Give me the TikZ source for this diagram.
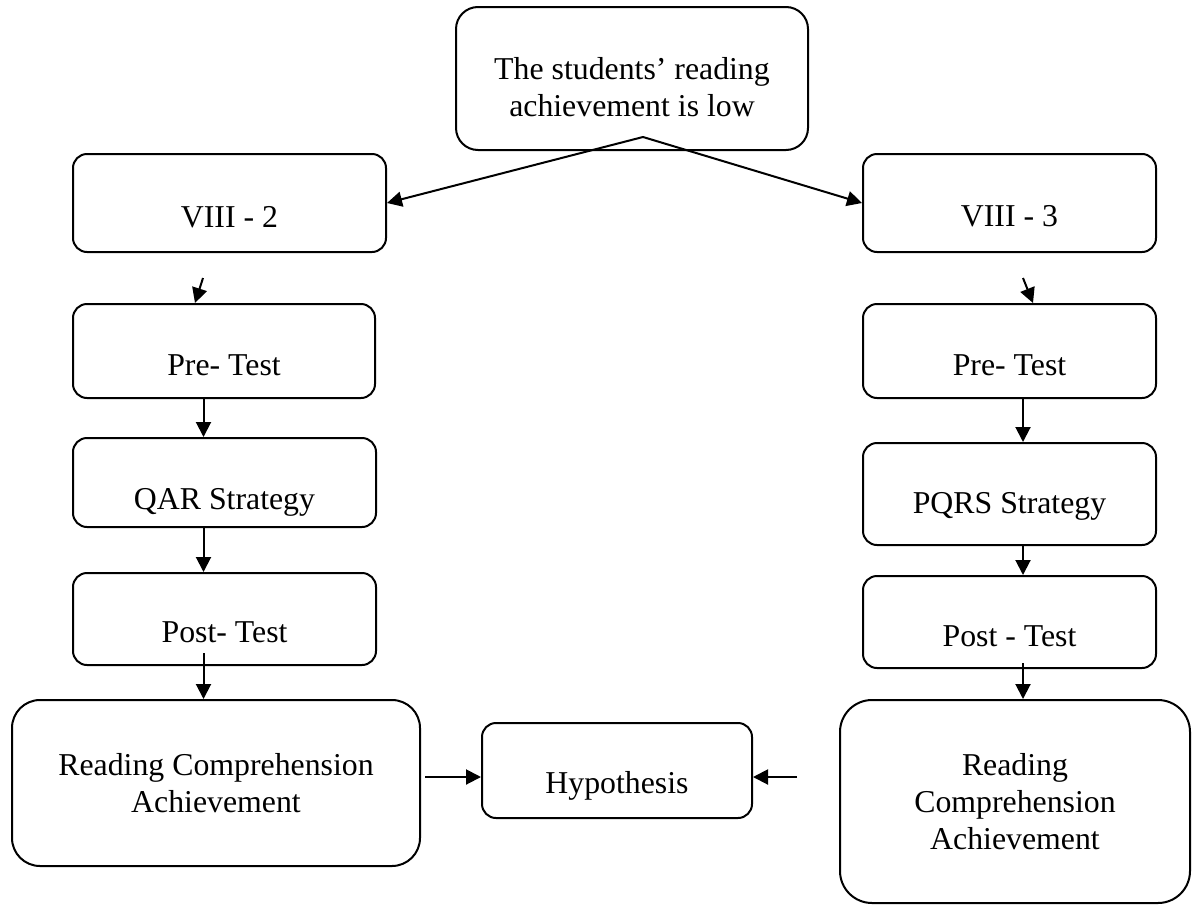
\documentclass[tikz,border=0pt]{standalone}
\usepackage{fontspec}
\setmainfont{Liberation Serif}
\usetikzlibrary{arrows.meta}

\begin{document}
\begin{tikzpicture}[
    x=0.5pt, y=-0.5pt,
    line width=1pt,
    >={Triangle[length=7.5pt, width=7.5pt]},
    box/.style={draw, align=center, inner xsep=0pt, inner ysep=0pt, rounded corners=7pt, font=\fontsize{15.9}{18.5}\selectfont}
]
    \useasboundingbox (0,0) rectangle (1194,905);

    % Nodes
    \node[box, rounded corners=11pt, minimum width=176pt, text height=54.5pt, text depth=17pt] (low) at (632,78.5) {The students’ reading\\achievement is low};
    \node[box, minimum width=156.5pt, text height=36.5pt, text depth=12.5pt] (v2) at (229.5,203) {VIII - 2};
    \node[box, minimum width=146.5pt, text height=36pt, text depth=13pt] (v3) at (1009.5,203) {VIII - 3};
    \node[box, minimum width=151pt, text height=35.5pt, text depth=11.5pt] (preL) at (224,351) {Pre- Test};
    \node[box, minimum width=146.5pt, text height=35.5pt, text depth=11.5pt] (preR) at (1009.5,351) {Pre- Test};
    \node[box, minimum width=151.5pt, text height=35.5pt, text depth=9pt] (qar) at (224.5,482.5) {QAR Strategy};
    \node[box, minimum width=146.5pt, text height=35pt, text depth=16pt] (pqrs) at (1009.5,494) {PQRS Strategy};
    \node[box, minimum width=151.5pt, text height=34.5pt, text depth=11.5pt] (postL) at (224.5,619) {Post- Test};
    \node[box, minimum width=146.5pt, text height=35pt, text depth=11pt] (postR) at (1009.5,622) {Post - Test};
    \node[box, rounded corners=14pt, minimum width=204pt, text height=56pt, text depth=27pt] (rcaL) at (216,783) {Reading Comprehension\\Achievement};
    \node[box, minimum width=135pt, text height=35pt, text depth=12.5pt] (hyp) at (617,770.5) {Hypothesis};
    \node[box, rounded corners=16pt, minimum width=175pt, text height=74.5pt, text depth=27pt] (rcaR) at (1015,801.5) {Reading\\Comprehension\\Achievement};

    % Free ends
    \coordinate (apex) at (643,137);
    \coordinate (colL) at (203.5,0);
    \coordinate (colR) at (1023,0);
    \coordinate (dropL) at (203,278);
    \coordinate (dropR) at (1023,278);
    \coordinate (outL) at (203.5,653);
    \coordinate (outR) at (1023,663);
    \coordinate (joinL) at (425,777);
    \coordinate (joinR) at (797,777);

    % Arrows
    \draw[->] (apex) -- (v2.east);
    \draw[->] (apex) -- (v3.west);
    \draw[->] (dropL) -- ([xshift=-14.5pt]preL.north);
    \draw[->] (dropR) -- ([xshift=11.75pt]preR.north);
    \draw[->] (preL.south -| colL) -- (qar.north -| colL);
    \draw[->] (qar.south -| colL) -- (postL.north -| colL);
    \draw[->] (outL) -- (outL |- rcaL.north);
    \draw[->] (preR.south -| colR) -- (pqrs.north -| colR);
    \draw[->] (pqrs.south -| colR) -- (postR.north -| colR);
    \draw[->] (outR) -- (outR |- rcaR.north);
    \draw[->] (joinL) -- (joinL -| hyp.west);
    \draw[->] (joinR) -- (joinR -| hyp.east);
\end{tikzpicture}
\end{document}
